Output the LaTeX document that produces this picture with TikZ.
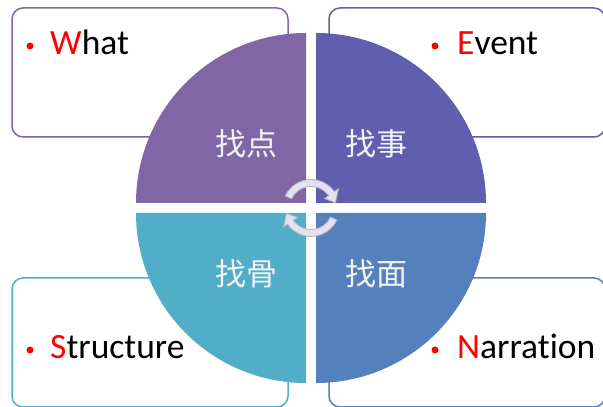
\documentclass[tikz,border=0pt]{standalone}
\usepackage{fontspec}
\setmainfont{Carlito}[Ligatures=NoCommon]
\newfontfamily\cjk{Noto Sans CJK SC}
\usetikzlibrary{positioning}

\definecolor{whatcol}{HTML}{8066A4}
\definecolor{eventcol}{HTML}{605EAE}
\definecolor{structcol}{HTML}{52ADC8}
\definecolor{narrcol}{HTML}{5480BD}
\definecolor{cyclefill}{HTML}{E4E1EE}
\definecolor{cycleline}{HTML}{B4AFC6}

\begin{document}
\begin{tikzpicture}[x=1pt,y=1pt,
  box/.style={draw,line width=1.5pt,rounded corners=11pt,minimum width=276pt,minimum height=129pt,inner sep=0pt},
  itemtext/.style={anchor=base west,inner sep=0pt,font=\fontsize{35.5}{40}\selectfont},
  dot/.style={circle,fill=red,inner sep=0pt,minimum size=7pt},
  cn/.style={text=white!95!black,font=\cjk\fontsize{31}{36}\selectfont},
  cyclearrow/.style={fill=cyclefill,draw=cycleline,line width=0.8pt}]
\useasboundingbox (0,0) rectangle (603,407);
% boxes behind the circle
\node[box,draw=whatcol]   (whatbox)   at (150,334.5) {};
\node[box,draw=eventcol]  (eventbox)  at (467,334.5) {};
\node[box,draw=structcol] (structbox) at (150,64.5) {};
\node[box,draw=narrcol]   (narrbox)   at (467,64.5) {};
% four quarters
\fill[whatcol]   (306,204) -- (136,204) arc[start angle=180,end angle=90,radius=170] -- cycle;
\fill[eventcol]  (316,204) -- (316,374) arc[start angle=90,end angle=0,radius=170] -- cycle;
\fill[structcol] (306,194) -- (306,24) arc[start angle=270,end angle=180,radius=170] -- cycle;
\fill[narrcol]   (316,194) -- (486,194) arc[start angle=0,end angle=-90,radius=170] -- cycle;
\node[cn] (zhaodian) at (246,263) {找点};
\node[cn] (zhaoshi)  at (376,263) {找事};
\node[cn] (zhaogu)   at (246,133) {找骨};
\node[cn] (zhaomian) at (376,133) {找面};
% cycle arrows
\begin{scope}[shift={(311,199)}]
\filldraw[cyclearrow] (155:28.5) arc[start angle=155,end angle=35,radius=28.5] -- (35:33.5) -- (12:25) -- (35:16.5) -- (35:21.5) arc[start angle=35,end angle=155,radius=21.5] -- cycle;
\filldraw[cyclearrow,rotate=180] (155:28.5) arc[start angle=155,end angle=35,radius=28.5] -- (35:33.5) -- (12:25) -- (35:16.5) -- (35:21.5) arc[start angle=35,end angle=155,radius=21.5] -- cycle;
\end{scope}
% items
\node[dot] (whatdot)   at (30,361)  {};
\node[dot] (eventdot)  at (435,361) {};
\node[dot] (structdot) at (30,57)   {};
\node[dot] (narrdot)   at (435,57)  {};
\node[itemtext] (what)   at (50,352)  {\textcolor{red}{W}hat};
\node[itemtext] (event)  at (457,352) {\textcolor{red}{E}vent};
\node[itemtext] (struct) at (50,48)   {\textcolor{red}{S}tructure};
\node[itemtext] (narr)   at (457,48)  {\textcolor{red}{N}arration};
\end{tikzpicture}
\end{document}
